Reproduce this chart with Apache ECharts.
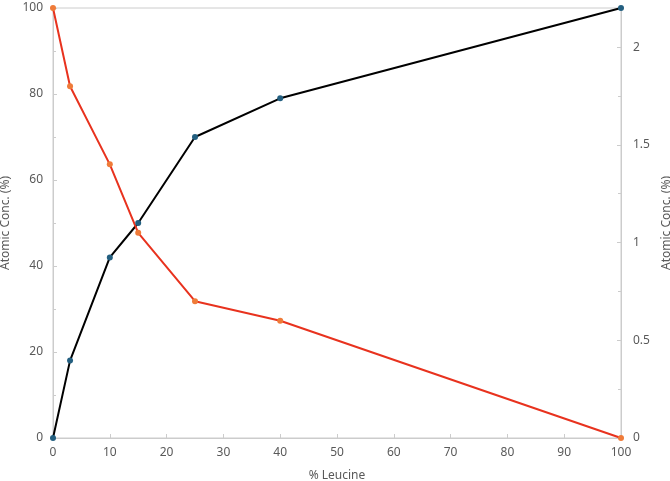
<!DOCTYPE html>
<html>
<head>
<meta charset="utf-8">
<script src="https://cdn.jsdelivr.net/npm/echarts@6/dist/echarts.min.js"></script>
<style>html,body{margin:0;padding:0;background:#fff}#c{width:670px;height:481px}</style>
</head>
<body>
<div id="c"></div>
<script>
const leucine = [0, 3, 10, 15, 25, 40, 100];
const blackSeries = [0, 18, 42, 50, 70, 79, 100];      // left axis
const orangeSeries = [2.2, 1.8, 1.4, 1.05, 0.7, 0.6, 0]; // right axis
const xName = '% Leucine';
const yName = 'Atomic Conc. (%)';

const chart = echarts.init(document.getElementById('c'));
const fontFamily = 'Noto Sans, sans-serif';
const labelColor = '#595959';
const axisGray = '#cccccc';
chart.setOption({
  animation: false,
  grid: {left: 53, right: 49, top: 8, bottom: 43, containLabel: false, outerBoundsMode: 'none',
         show: true, borderColor: axisGray, borderWidth: 1},
  xAxis: {
    type: 'value', min: 0, max: 100, interval: 10,
    name: xName, nameLocation: 'middle', nameGap: 32,
    nameTextStyle: {color: labelColor, fontSize: 12, fontFamily},
    axisLine: {lineStyle: {color: axisGray}},
    axisTick: {show: true, inside: true, length: 4, lineStyle: {color: axisGray}},
    splitLine: {show: false},
    axisLabel: {color: labelColor, fontSize: 12, fontFamily, margin: 9}
  },
  yAxis: [{
    type: 'value', min: 0, max: 100, interval: 20,
    name: yName, nameLocation: 'middle', nameGap: 37,
    nameTextStyle: {color: labelColor, fontSize: 12, fontFamily},
    axisLine: {show: true, lineStyle: {color: axisGray}},
    axisTick: {show: true, inside: true, length: 4, lineStyle: {color: axisGray}},
    minorTick: {show: true, splitNumber: 2, length: 3, lineStyle: {color: axisGray}},
    splitLine: {show: false},
    axisLabel: {color: labelColor, fontSize: 12, fontFamily, margin: 10}
  }, {
    type: 'value', min: 0, max: 2.2, interval: 0.5, position: 'right',
    name: yName, nameLocation: 'middle', nameGap: 34, nameRotate: 90,
    nameTextStyle: {color: labelColor, fontSize: 12, fontFamily},
    axisLine: {show: true, lineStyle: {color: axisGray}},
    axisTick: {show: true, inside: true, length: 4, lineStyle: {color: axisGray}},
    minorTick: {show: true, splitNumber: 2, length: 3, lineStyle: {color: axisGray}},
    splitLine: {show: false},
    axisLabel: {color: labelColor, fontSize: 12, fontFamily, margin: 12, showMaxLabel: false}
  }],
  series: [{
    type: 'line', yAxisIndex: 0,
    data: leucine.map((x, i) => [x, blackSeries[i]]),
    symbol: 'circle', symbolSize: 6,
    lineStyle: {color: '#000', width: 2},
    itemStyle: {color: '#235f80'}
  }, {
    type: 'line', yAxisIndex: 1,
    data: leucine.map((x, i) => [x, orangeSeries[i]]),
    symbol: 'circle', symbolSize: 6,
    lineStyle: {color: '#e8321e', width: 2},
    itemStyle: {color: '#ef7b39'}
  }]
});
</script>
</body>
</html>
